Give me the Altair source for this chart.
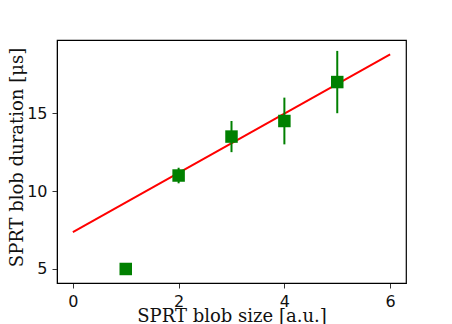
import altair as alt
import pandas as pd

# data
sizes = [1, 2, 3, 4, 5]
durations = [5.0, 11.0, 13.5, 14.5, 17.0]
errors = [0.0, 0.5, 1.0, 1.5, 2.0]
fit_x = [0, 6]
fit_y = [7.37, 18.77]

pts = pd.DataFrame({"x": sizes, "y": durations, "lo": [d - e for d, e in zip(durations, errors)],
                    "hi": [d + e for d, e in zip(durations, errors)]})
fit = pd.DataFrame({"x": fit_x, "y": fit_y})

xs = alt.Scale(domain=[-0.3, 6.3], nice=False, zero=False)
ys = alt.Scale(domain=[4.1, 19.7], nice=False, zero=False)

xax = alt.Axis(values=[0, 2, 4, 6], title="SPRT blob size [a.u.]", grid=False,
               titleFont="DejaVu Serif", titleFontSize=18, titleFontWeight="normal",
               titleColor="#111", titleY=38.5, titleBaseline="alphabetic",
               labelFont="DejaVu Sans", labelFontSize=16, labelColor="#111",
               tickSize=5, tickColor="#333", domainColor="black", labelPadding=5, labelFlush=False)
yax = alt.Axis(values=[5, 10, 15], title="SPRT blob duration [μs]", grid=False,
               titleFont="DejaVu Serif", titleFontSize=18, titleFontWeight="normal",
               titleColor="#111", titleX=-35, titleY=117, titleBaseline="alphabetic",
               labelFont="DejaVu Sans", labelFontSize=16, labelColor="#111",
               tickSize=5, tickColor="#333", domainColor="black", labelPadding=5, labelFlush=False)

line = alt.Chart(fit).mark_line(color="red", strokeWidth=2).encode(
    x=alt.X("x:Q", scale=xs, axis=xax), y=alt.Y("y:Q", scale=ys, axis=yax))
bars = alt.Chart(pts).mark_rule(color="green", strokeWidth=2).encode(
    x=alt.X("x:Q", scale=xs), y=alt.Y("lo:Q", scale=ys), y2="hi:Q")
squares = alt.Chart(pts).mark_square(color="green", size=156, opacity=1).encode(
    x=alt.X("x:Q", scale=xs), y=alt.Y("y:Q", scale=ys))

chart = alt.layer(line, bars, squares).properties(
    width=349, height=243, autosize="none",
    padding={"left": 49, "top": 32, "right": 38, "bottom": 41}
).configure_view(stroke="black", strokeWidth=1.2)

chart.save("out.html", embed_options={"renderer": "svg", "actions": False})
